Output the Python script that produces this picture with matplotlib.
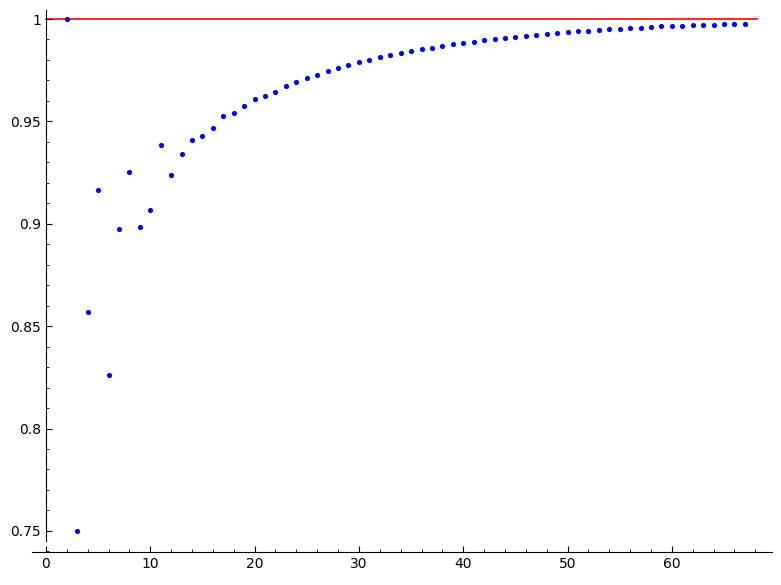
import matplotlib
matplotlib.use("Agg")
import matplotlib.pyplot as plt
from matplotlib.ticker import MultipleLocator, FuncFormatter

# points, n = 2..67
n_vals = list(range(2, 68))
ratio = [1.0, 0.75, 0.857, 0.9165, 0.826, 0.8975, 0.9253, 0.8984, 0.9067, 0.9385,
         0.9238, 0.934, 0.941, 0.943, 0.9468, 0.9526, 0.954, 0.9575, 0.9607, 0.9622,
         0.9645, 0.9674, 0.9694, 0.971, 0.9728, 0.9745, 0.976, 0.9775, 0.9789, 0.9801,
         0.9813, 0.9823, 0.9834, 0.9844, 0.9852, 0.986, 0.987, 0.9878, 0.9884, 0.989,
         0.9896, 0.9902, 0.9909, 0.9914, 0.9919, 0.9924, 0.9927, 0.9932, 0.9937, 0.994,
         0.9943, 0.9946, 0.995, 0.9953, 0.9956, 0.9958, 0.9961, 0.9964, 0.9966, 0.9967,
         0.9969, 0.9971, 0.9972, 0.9974, 0.9976, 0.9976]

limit_x = [0, 68.2]
limit_y = [1, 1]

fig = plt.figure(figsize=(7.81, 5.85), dpi=100)
ax = fig.add_axes([32 / 781, 1 - 552 / 585, (772 - 32) / 781, (552 - 10) / 585])

ax.plot(limit_x, limit_y, color="red", lw=1.2, zorder=1)
ax.scatter(n_vals, ratio, s=14, color="blue", linewidths=0, zorder=2)

ax.set_xlim(-1.34, 69.6)
ax.set_ylim(0.7397, 1.0044)

# sage-like axes
ax.spines["top"].set_visible(False)
ax.spines["right"].set_visible(False)
ax.spines["left"].set_position(("data", 0))
ax.spines["left"].set_bounds(0.7451, 1.0044)

ax.xaxis.set_major_locator(MultipleLocator(10))
ax.xaxis.set_minor_locator(MultipleLocator(2))
ax.yaxis.set_major_locator(MultipleLocator(0.05))
ax.yaxis.set_minor_locator(MultipleLocator(0.01))
ax.yaxis.set_major_formatter(FuncFormatter(lambda v, p: ("%.2f" % v).rstrip("0").rstrip(".")))
ax.tick_params(which="major", direction="in", length=4, labelsize=10)
ax.tick_params(which="minor", direction="in", length=2)

fig.savefig("out.png", dpi=100)
